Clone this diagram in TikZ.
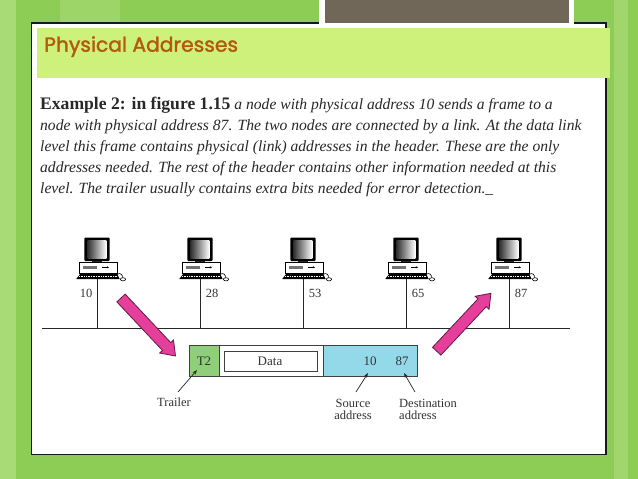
\documentclass[tikz,border=0pt]{standalone}
\usepackage{fontspec}
\setmainfont{Liberation Serif}
\newfontfamily\titlefont{Poppins}[FakeBold=1.6]
\usetikzlibrary{calc,arrows.meta}
\definecolor{bggreen}{RGB}{141,205,85}
\definecolor{bglight}{RGB}{168,218,118}
\definecolor{bandlime}{RGB}{205,241,122}
\definecolor{titleorange}{RGB}{179,89,13}
\definecolor{slategray}{RGB}{113,103,88}
\definecolor{trailergreen}{RGB}{143,207,122}
\definecolor{headerblue}{RGB}{147,217,234}
\definecolor{pinkfill}{RGB}{230,62,155}
\definecolor{pinkedge}{RGB}{95,30,65}
\definecolor{bodytext}{RGB}{40,40,40}
\newcommand\pinkarrow[2]{%
  \coordinate (#1hb) at ($(#2)!13pt!(#1)$);
  \filldraw[pinkarr]
    ($(#1)!5.7pt!90:(#2)$) -- ($(#1hb)!5.7pt!-90:(#1)$) -- ($(#1hb)!9.5pt!-90:(#1)$)
    -- (#2) -- ($(#1hb)!9.5pt!90:(#1)$) -- ($(#1hb)!5.7pt!90:(#1)$)
    -- ($(#1)!5.7pt!-90:(#2)$) -- cycle;}
\newcommand\boldlead[1]{{\fontsize{17.6}{18}\selectfont\bfseries #1}}
\begin{document}
\begin{tikzpicture}[x=1pt,y=-1pt,
  body/.style={anchor=base west, inner sep=0, text=bodytext, font=\fontsize{15.6}{18}\selectfont},
  lbl/.style={inner sep=0, font=\fontsize{12.5}{14}\selectfont, text=black!80},
  boxlbl/.style={inner sep=0, font=\fontsize{13}{15}\selectfont, text=black!80},
  framebox/.style={draw=black!75, line width=0.8},
  ptr/.style={draw=black!85, line width=0.7, -{Stealth[length=5pt,width=3.5pt]}},
  pinkarr/.style={fill=pinkfill, draw=pinkedge, line width=0.8, line join=miter}]
\useasboundingbox (0,0) rectangle (638,479);
% background
\fill[bggreen] (0,0) rectangle (638,479);
\fill[bglight] (0,0) rectangle (16,479);
\fill[bglight!70!bggreen] (614,0) rectangle (628,479);
\fill[bglight!60!bggreen] (60,0) rectangle (120,23);
% grey tab
\fill[white] (319,0) rectangle (574,28);
\fill[slategray] (325,0) rectangle (569,28);
% panel
\fill[white] (31.5,23) rectangle (606,454.5);
\draw[black!90, line width=1.1] (319,23) -- (31.5,23) -- (31.5,454.5) -- (606,454.5) -- (606,23) -- (574,23);
\fill[bandlime] (37,28.3) rectangle (610,78.3);
\node[anchor=base west, inner sep=0, text=titleorange, font=\titlefont\fontsize{20.3}{23}\selectfont] (title) at (44,51.7) {Physical Addresses};
% body text
\node[body] (t1) at (40,109) {\boldlead{Example 2: in figure 1.15} \textit{a node with physical address 10 sends a frame to a}};
\node[body] (t2) at (40,130.2) {\textit{node with physical address 87. The two nodes are connected by a link. At the data link}};
\node[body] (t3) at (40,151.4) {\textit{level this frame contains physical (link) addresses in the header. These are the only}};
\node[body] (t4) at (40,172.6) {\textit{addresses needed. The rest of the header contains other information needed at this}};
\node[body] (t5) at (40,193.8) {\textit{level. The trailer usually contains extra bits needed for error detection.\_}};
% bus
\coordinate (busL) at (42,328.5);
\coordinate (busR) at (570,328.5);
\draw[black!85, line width=1.8] (busL) -- (busR);
% computers
\foreach \i/\x/\lab/\lx in {1/97/10/86, 2/200/28/212, 3/303/53/315, 4/406/65/418, 5/509/87/521} {
  \begin{scope}[shift={(\x,0)}]
    \fill[black, rounded corners=1pt] (-12.7,237.5) rectangle (12.7,261);
    \shade[left color=black!80, right color=white] (-9.3,240) rectangle (9.3,258.5);
    \fill[black!85] (-5,260.5) rectangle (5,263);
    \draw[fill=white, line width=0.8] (-17.3,262.7) rectangle (20,273.7);
    \fill[black!55] (-14,266) rectangle (0,268.5);
    \draw[line width=0.6, -{Stealth[length=2.2pt,width=2.2pt]}] (5,267.3) -- (12,267.3);
    \fill (-16.7,273.7) -- (20,273.7) -- (22.7,279) -- (-20.7,279) -- cycle;
    \draw[white, dash pattern=on 1pt off 0.7pt, line width=0.6] (-18,276.3) -- (20.8,276.3);
    \draw[line width=0.6] (20,274.5) .. controls (23,272) and (26,275) .. (25.5,277.5);
    \draw[fill=white, line width=0.6] (26,279.3) ellipse (2.6 and 1.6);
  \end{scope}
  \coordinate (top\i) at (\x,279);
  \coordinate (bus\i) at (\x,328.5);
  \draw[black!85, line width=0.7] (top\i) -- (bus\i);
  \node[lbl] (lab\i) at (\lx,293) {\lab};
}
% frame
\draw[framebox, fill=trailergreen] (189,345) rectangle (219,376);
\draw[framebox, fill=white] (219,345) rectangle (323,376);
\draw[framebox, fill=white] (224,351) rectangle (317,371);
\draw[framebox, fill=headerblue] (323,345) rectangle (417,376);
\node[boxlbl] (t2lbl) at (204,361) {T2};
\node[boxlbl] (datalbl) at (270,361) {Data};
\node[boxlbl] (srclbl) at (370,361.5) {10};
\node[boxlbl] (dstlbl) at (402,361.5) {87};
% annotations
\node[lbl] (trailer) at (174,402) {Trailer};
\node[lbl, align=center] (source) at (353,409.5) {Source\\[-1.5pt]address};
\node[lbl, align=left, anchor=west] (dest) at (399,409.5) {Destination\\[-1.5pt]address};
\coordinate (trailertail) at (178,392);
\coordinate (trailertip) at (197,370);
\coordinate (sourcetail) at (356,392);
\coordinate (sourcetip) at (368,373);
\coordinate (desttail) at (415,392);
\coordinate (desttip) at (404,373);
\draw[ptr] (trailertail) -- (trailertip);
\draw[ptr] (sourcetail) -- (sourcetip);
\draw[ptr] (desttail) -- (desttip);
% pink arrows
\coordinate (pa) at (121,298);
\coordinate (patip) at (175.5,356);
\coordinate (pb) at (436.7,351.2);
\coordinate (pbtip) at (491,293.3);
\pinkarrow{pa}{patip}
\pinkarrow{pb}{pbtip}
\end{tikzpicture}
\end{document}
